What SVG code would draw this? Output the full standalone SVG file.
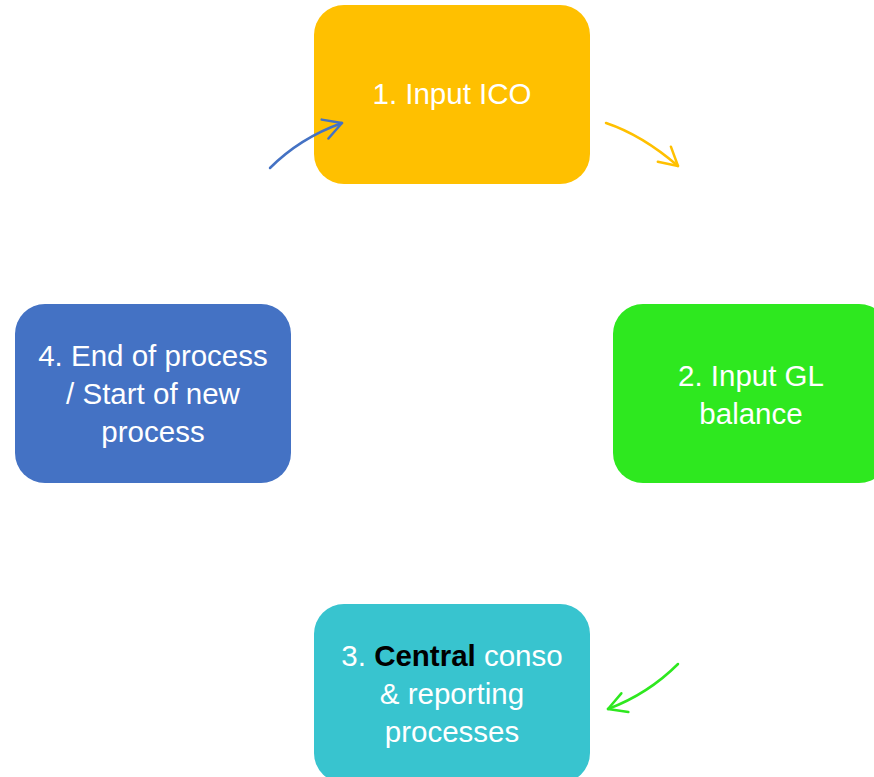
<svg xmlns="http://www.w3.org/2000/svg" width="874" height="777" viewBox="0 0 874 777">
<style>
.lbl{font-family:"Liberation Sans",Arial,sans-serif;font-size:29.5px;fill:#ffffff;text-anchor:middle}
.bold{font-weight:bold;fill:#000000}
.conn{fill:none;stroke-width:2.5;stroke-linecap:round}
</style>
<defs>
<marker id="mBlue" markerUnits="userSpaceOnUse" markerWidth="30" markerHeight="30" refX="0" refY="0" viewBox="-25 -15 30 30" orient="auto" overflow="visible">
<path d="M-18,-10 L0,0 L-18,10" fill="none" stroke="#4472C4" stroke-width="2.5" stroke-linecap="round" stroke-linejoin="round"/>
</marker>
<marker id="mYellow" markerUnits="userSpaceOnUse" markerWidth="30" markerHeight="30" refX="0" refY="0" viewBox="-25 -15 30 30" orient="auto" overflow="visible">
<path d="M-18,-10 L0,0 L-18,10" fill="none" stroke="#FFC000" stroke-width="2.5" stroke-linecap="round" stroke-linejoin="round"/>
</marker>
<marker id="mGreen" markerUnits="userSpaceOnUse" markerWidth="30" markerHeight="30" refX="0" refY="0" viewBox="-25 -15 30 30" orient="auto" overflow="visible">
<path d="M-18,-10 L0,0 L-18,10" fill="none" stroke="#2EE81F" stroke-width="2.5" stroke-linecap="round" stroke-linejoin="round"/>
</marker>
</defs>
<rect width="874" height="777" fill="#ffffff"/>
<g id="node1">
<rect x="314" y="5" width="276" height="179" rx="30" fill="#FFC000"/>
<text class="lbl" x="452" y="104">1. Input ICO</text>
</g>
<g id="node2">
<rect x="613" y="304" width="276" height="179" rx="30" fill="#2EE81F"/>
<text class="lbl" x="751" y="386">2. Input GL</text>
<text class="lbl" x="751" y="424">balance</text>
</g>
<g id="node3">
<rect x="314" y="604" width="276" height="179" rx="30" fill="#38C4CF"/>
<text class="lbl" x="452" y="666">3. <tspan class="bold">Central</tspan> conso</text>
<text class="lbl" x="452" y="704">&amp; reporting</text>
<text class="lbl" x="452" y="742">processes</text>
</g>
<g id="node4">
<rect x="15" y="304" width="276" height="179" rx="30" fill="#4472C4"/>
<text class="lbl" x="153" y="366">4. End of process</text>
<text class="lbl" x="153" y="404">/ Start of new</text>
<text class="lbl" x="153" y="442">process</text>
</g>
<g id="connectors">
<path class="conn" stroke="#4472C4" d="M270,168 Q300,138 342,123" marker-end="url(#mBlue)"/>
<path class="conn" stroke="#FFC000" d="M606,123 Q642,135 678,166" marker-end="url(#mYellow)"/>
<path class="conn" stroke="#2EE81F" d="M678,664 Q648,694 608,709" marker-end="url(#mGreen)"/>
</g>
</svg>
